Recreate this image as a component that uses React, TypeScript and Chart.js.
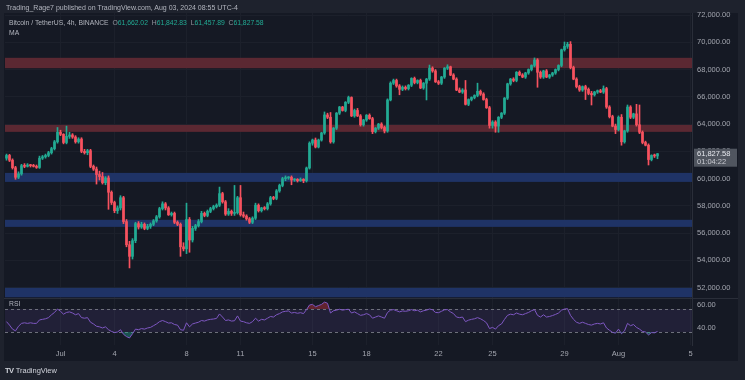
import React, { useEffect, useRef } from 'react';
import { Chart, registerables } from 'chart.js';

Chart.register(...registerables);

// ---- data (BTC/USDT 4h candles, Jun 28 00:00 -> Aug 3 04:00) ----
const opens = [
  61500, 61700, 61350, 60800, 60100, 60350,
  60950, 60900, 61000, 60950, 60900, 60820,
  61500, 61600, 61700, 61900, 62200, 62700,
  63400, 63250, 62650, 63100, 63200, 63050,
  62700, 62900, 62000, 61900, 62050, 60900,
  60700, 60300, 60150, 59700, 60050, 59000,
  58250, 57650, 57850, 58600, 56850, 55150,
  54300, 55450, 56700, 56450, 56650, 56350,
  56500, 56650, 56900, 57200, 57800, 58150,
  57850, 57350, 57450, 56800, 56650, 55000,
  54850, 57000, 55500, 56350, 56550, 56850,
  57450, 57300, 57600, 57800, 57950, 58050,
  58900, 58300, 57400, 57600, 57450, 57500,
  58600, 57350, 57250, 57050, 56800, 57100,
  58050, 57650, 57850, 57800, 58150, 58600,
  58550, 59100, 59500, 60000, 60050, 60100,
  59900, 59950, 59850, 59950, 59850, 60780,
  62600, 62830, 62320, 62830, 63350, 64670,
  64500, 62700, 63700, 64800, 65250, 65000,
  65600, 65950, 64600, 65000, 64600, 63950,
  64300, 64650, 64400, 63450, 63700, 64000,
  63750, 63500, 65770, 67000, 67200, 66800,
  66550, 66700, 66600, 66850, 67350, 67050,
  67200, 66650, 67000, 67300, 68100, 67900,
  67100, 67000, 67450, 68100, 68200, 67600,
  67300, 66500, 66350, 66500, 65450, 65800,
  65950, 66100, 66400, 66200, 65800, 65200,
  63900, 64150, 63850, 64500, 64800, 65900,
  66950, 67300, 67200, 67800, 67600, 67450,
  67750, 68000, 68300, 68700, 67800, 67450,
  67900, 67450, 67600, 67750, 68000, 68300,
  69450, 69700, 69850, 68150, 67300, 66750,
  66500, 66750, 66550, 66250, 66150, 66350,
  66450, 66350, 66600, 65250, 64550, 63850,
  63600, 64500, 62700, 63500, 65250, 64500,
  64750, 63950, 63400, 62650, 62450, 61400,
  61700, 61662.02,
];
const highs = [
  61800, 61780, 61450, 60900, 60500, 61050,
  61100, 61100, 61050, 61050, 61000, 61650,
  61700, 61800, 62000, 62300, 62800, 63750,
  63550, 63300, 63850, 63400, 63300, 63150,
  63000, 63000, 62150, 62150, 62150, 61000,
  60850, 60550, 60450, 60150, 60200, 59100,
  58350, 58000, 58750, 58700, 57000, 55400,
  55600, 56800, 56850, 56800, 56750, 56650,
  56750, 57000, 57300, 57900, 58300, 58250,
  57950, 57550, 57550, 56900, 56750, 55300,
  58200, 57150, 56500, 56650, 57000, 57600,
  57550, 57700, 57900, 58050, 58150, 59380,
  59000, 58400, 57800, 57700, 59500, 58700,
  59500, 57550, 57350, 57150, 57200, 58200,
  58150, 57900, 57950, 58250, 58700, 58700,
  59200, 59600, 60100, 60200, 60150, 60200,
  60000, 60000, 60050, 60000, 60850, 62700,
  62900, 62980, 62900, 63400, 64890, 64800,
  64850, 63750, 64850, 65300, 65300, 65650,
  66050, 66000, 65100, 65150, 64700, 64350,
  64700, 64750, 64500, 63750, 64050, 64100,
  63850, 65850, 67100, 67300, 67300, 66900,
  66800, 66800, 66900, 67400, 67450, 67250,
  67300, 67050, 67350, 68330, 68200, 68000,
  67200, 67500, 68150, 68350, 68250, 67700,
  67400, 66650, 66600, 67200, 65850, 66000,
  66150, 67000, 66500, 66300, 65900, 65300,
  64250, 64250, 64550, 64850, 65950, 67000,
  67350, 67400, 67850, 67900, 67700, 67800,
  68050, 68350, 68850, 68800, 67900, 67950,
  68000, 67650, 67800, 68050, 68350, 69500,
  70020, 70000, 70050, 68250, 67400, 66850,
  66800, 66850, 66650, 66400, 66400, 66500,
  66550, 66800, 66700, 65350, 64650, 64000,
  64600, 64700, 63550, 65400, 65350, 64800,
  65450, 65400, 63500, 62750, 62550, 61750,
  61800, 61842.83,
];
const lows = [
  61350, 61250, 60700, 59950, 60000, 60250,
  60800, 60850, 60850, 60850, 60750, 60750,
  61400, 61500, 61600, 61800, 62100, 62600,
  63150, 62550, 62550, 62950, 62950, 62600,
  62600, 61900, 61800, 61750, 60800, 60600,
  59600, 59900, 59600, 59550, 57750, 58100,
  57500, 57450, 57700, 56700, 55000, 53450,
  54100, 55300, 56300, 56350, 56250, 56250,
  56350, 56550, 56800, 57100, 57700, 57700,
  57300, 57250, 56700, 56550, 54300, 54700,
  54500, 54600, 55350, 56200, 56450, 56750,
  57200, 57200, 57500, 57700, 57850, 57950,
  58200, 57300, 57300, 57300, 57300, 57400,
  57250, 57150, 56950, 56700, 56700, 57000,
  57550, 57550, 57700, 57700, 58050, 58450,
  58450, 59000, 59400, 59850, 59950, 59550,
  59800, 59750, 59800, 59700, 59750, 60700,
  62450, 62250, 62250, 62750, 63250, 64400,
  62600, 62600, 63600, 64700, 64950, 64900,
  65500, 64550, 64500, 64550, 63850, 63850,
  64200, 64350, 63300, 63350, 63600, 63650,
  63350, 63400, 65700, 66900, 66700, 66150,
  66450, 66500, 66500, 66750, 66950, 66950,
  66600, 66550, 65770, 67200, 67800, 67050,
  66900, 66900, 67350, 68000, 67550, 67250,
  66450, 66300, 66250, 65400, 65350, 65700,
  65850, 66000, 66100, 65750, 65150, 63700,
  63700, 63400, 63400, 64400, 64700, 65800,
  66850, 67100, 67100, 67550, 67400, 67350,
  67650, 67900, 68200, 66700, 67350, 67350,
  67400, 67350, 67500, 67650, 67900, 68200,
  69350, 69550, 68050, 67250, 66650, 66400,
  66400, 65800, 66150, 65400, 66050, 66250,
  66300, 66250, 65150, 64450, 63800, 63300,
  63500, 62450, 62600, 63400, 64400, 64400,
  63850, 63300, 62550, 62400, 61000, 61300,
  61550, 61457.89,
];
const closes = [
  61700, 61350, 60800, 60100, 60350, 60950,
  60900, 61000, 60950, 60900, 60820, 61500,
  61600, 61700, 61900, 62200, 62700, 63400,
  63250, 62650, 63100, 63200, 63050, 62700,
  62900, 62000, 61900, 62050, 60900, 60700,
  60300, 60150, 59700, 60050, 59000, 58250,
  57650, 57850, 58600, 56850, 55150, 54300,
  55450, 56700, 56450, 56650, 56350, 56500,
  56650, 56900, 57200, 57800, 58150, 57850,
  57350, 57450, 56800, 56650, 55000, 54850,
  57000, 55500, 56350, 56550, 56850, 57450,
  57300, 57600, 57800, 57950, 58050, 58900,
  58300, 57400, 57600, 57450, 57500, 58600,
  57350, 57250, 57050, 56800, 57100, 58050,
  57650, 57850, 57800, 58150, 58600, 58550,
  59100, 59500, 60000, 60050, 60100, 59900,
  59950, 59850, 59950, 59850, 60780, 62600,
  62830, 62320, 62830, 63350, 64670, 64500,
  62700, 63700, 64800, 65250, 65000, 65600,
  65950, 64600, 65000, 64600, 63950, 64300,
  64650, 64400, 63450, 63700, 64000, 63750,
  63500, 65770, 67000, 67200, 66800, 66550,
  66700, 66600, 66850, 67350, 67050, 67200,
  66650, 67000, 67300, 68100, 67900, 67100,
  67000, 67450, 68100, 68200, 67600, 67300,
  66500, 66350, 66500, 65450, 65800, 65950,
  66100, 66400, 66200, 65800, 65200, 63900,
  64150, 63850, 64500, 64800, 65900, 66950,
  67300, 67200, 67800, 67600, 67450, 67750,
  68000, 68300, 68700, 67800, 67450, 67900,
  67450, 67600, 67750, 68000, 68300, 69450,
  69700, 69850, 68150, 67300, 66750, 66500,
  66750, 66550, 66250, 66150, 66350, 66450,
  66350, 66600, 65250, 64550, 63850, 63600,
  64500, 62700, 63500, 65250, 64500, 64750,
  63950, 63400, 62650, 62450, 61400, 61700,
  61662.02, 61827.58,
];
const rsiValues = [
  49, 46, 42.5, 41, 45, 47.5,
  48, 47.5, 48, 47.5, 47.5, 50.5,
  51, 51.5, 52.5, 55, 57, 60,
  58, 55.5, 57, 57.5, 56.5, 55,
  56, 52.5, 52, 52.5, 48.5, 47,
  45, 44.5, 43.5, 44.5, 42, 40.5,
  39.5, 40, 42, 38, 36, 34.8,
  38.5, 42.5, 42, 43, 42.5, 43.5,
  44, 45.5, 47, 49, 50, 49,
  47.8, 48, 46.5, 46, 42, 41.5,
  48, 44.5, 47, 47.8, 48.5, 50,
  49.5, 50.5, 51, 51.3, 51.8, 55.7,
  53, 50, 50.5, 49.5, 49.8, 54,
  49.5, 49, 48, 47.5, 49, 52,
  49.5, 51, 50.5, 52, 53.5, 53,
  55, 56, 57.5, 58, 58.3, 56.5,
  57, 56.3, 56.8, 56, 59.5, 63.5,
  64, 62, 63, 64, 66, 65,
  56.5, 58.5, 59, 59.8, 59, 59.5,
  59.8, 56.5, 57.5, 56, 54.5, 55,
  56, 55, 52, 53, 54, 53,
  52, 57, 59, 59.5, 58.5, 57.5,
  58.3, 58, 58.5, 59.5, 58.5, 59,
  57.5, 58.5, 59, 60, 59.3, 57,
  56.8, 58, 59.3, 59.5, 57.5, 56,
  53, 52.5, 53, 49, 50.3, 51,
  51.5, 52.5, 51.5, 50, 48, 43,
  44, 42.5, 45.5, 47, 51, 54.5,
  55.5, 55, 56.5, 55.5, 55, 56,
  57, 58.5, 59.5, 54.5, 53, 55,
  53, 53.5, 54.3, 55.3, 56.5, 59,
  60, 60.3, 54.5, 51, 48.5, 47.5,
  48.5, 47.5, 46.5, 46, 47, 47.5,
  47, 48, 43.5, 41.5, 39.7, 39,
  42.5, 38.5, 41, 47.5, 45.5, 46.5,
  44, 42.5, 40.5, 40, 37.5, 39.5,
  39.3, 40.5,
];

const priceTicks = [52000, 54000, 56000, 58000, 60000, 62000, 64000, 66000, 68000, 70000, 72000];
const rsiTicks = [40, 60];
const rsiUpper = 60;
const rsiLower = 40;
const xTickIndex = [18, 36, 60, 78, 102, 120, 144, 162, 186, 204, 228];
const xTickText = ['Jul', '4', '8', '11', '15', '18', '22', '25', '29', 'Aug', '5'];
const totalSlots = 229;
const zoneLow = [68100, 63430, 59760, 56460, 51300];
const zoneHigh = [68860, 63940, 60420, 56980, 51990];
const zoneKind = ['resistance', 'resistance', 'support', 'support', 'support'];
const lastPrice = 61827.58;
const countdown = '01:04:22';

const UP = '#22ab94';
const DOWN = '#f7525f';
const FRAME = '#1e222d';
const PANE = '#151924';
const GRID = '#1c202b';
const TEXT = '#a3a6af';
const FONT = '"Liberation Sans", Arial, sans-serif';

export default function App() {
  const ref = useRef<HTMLCanvasElement>(null);

  useEffect(() => {
    const canvas = ref.current;
    if (!canvas) return;
    const categories = Array.from({ length: totalSlots }, (_, i) => {
      const d = new Date(Date.UTC(2024, 5, 28, 0, 0) + i * 4 * 3600 * 1000);
      return d.toISOString().slice(0, 16).replace('T', ' ');
    });
    const colors = opens.map((o, i) => (closes[i] >= o ? UP : DOWN));

    const bgPlugin = {
      id: 'bgPlugin',
      beforeDraw(chart: any) {
        const { ctx, width, height, chartArea } = chart;
        const y = chart.scales.y;
        const x = chart.scales.x;
        ctx.save();
        ctx.fillStyle = FRAME;
        ctx.fillRect(0, 0, width, height);
        ctx.fillStyle = PANE;
        ctx.fillRect(chartArea.left - 1, chartArea.top, y.right - chartArea.left + 1, x.bottom - chartArea.top + 1);
        ctx.restore();
      },
      beforeDatasetsDraw(chart: any) {
        const { ctx, chartArea } = chart;
        const y = chart.scales.y;
        const r = chart.scales.yR;
        const w = chartArea.right - chartArea.left;
        ctx.save();
        ctx.beginPath();
        ctx.rect(chartArea.left, y.top, w, y.bottom - y.top);
        ctx.clip();
        zoneLow.forEach((lo, k) => {
          const t = y.getPixelForValue(zoneHigh[k]);
          const b = y.getPixelForValue(lo);
          ctx.fillStyle = zoneKind[k] === 'resistance' ? '#5b2832' : '#1f3366';
          ctx.fillRect(chartArea.left, t, w, b - t);
        });
        ctx.restore();

        ctx.save();
        const t = r.getPixelForValue(rsiUpper);
        const b = r.getPixelForValue(rsiLower);
        ctx.fillStyle = 'rgba(126,87,194,0.12)';
        ctx.fillRect(chartArea.left, t, w, b - t);
        ctx.strokeStyle = '#6d707b';
        ctx.lineWidth = 1;
        ctx.setLineDash([3, 3]);
        [t, b].forEach((py) => {
          ctx.beginPath();
          ctx.moveTo(chartArea.left, Math.round(py) + 0.5);
          ctx.lineTo(chartArea.right, Math.round(py) + 0.5);
          ctx.stroke();
        });
        ctx.setLineDash([]);
        ctx.strokeStyle = '#2a2e39';
        ctx.beginPath();
        ctx.moveTo(chartArea.left - 1, Math.round(y.bottom) + 0.5);
        ctx.lineTo(y.right, Math.round(y.bottom) + 0.5);
        ctx.stroke();
        ctx.restore();
      },
      afterDraw(chart: any) {
        const { ctx } = chart;
        const y = chart.scales.y;
        const py = y.getPixelForValue(lastPrice);
        ctx.save();
        ctx.fillStyle = '#50555f';
        ctx.fillRect(y.left + 2, py - 5, y.width - 3, 18);
        ctx.fillStyle = '#e6e8ee';
        ctx.font = `7.5px ${FONT}`;
        ctx.textBaseline = 'middle';
        ctx.textAlign = 'left';
        ctx.fillText(lastPrice.toLocaleString('en-US', { minimumFractionDigits: 2 }), y.left + 5, py);
        ctx.fillStyle = '#c8cad1';
        ctx.fillText(countdown, y.left + 5, py + 8.5);
        ctx.restore();
      },
    };

    const chart = new Chart(canvas, {
      type: 'bar',
      data: {
        labels: categories,
        datasets: [
          {
            type: 'bar',
            label: 'wick',
            data: lows.map((l, i) => [l, highs[i]]),
            backgroundColor: colors,
            barThickness: 1,
            grouped: false,
            yAxisID: 'y',
            order: 3,
          } as any,
          {
            type: 'bar',
            label: 'body',
            data: opens.map((o, i) => [o, closes[i]]),
            backgroundColor: colors,
            barThickness: 2,
            minBarLength: 1,
            grouped: false,
            yAxisID: 'y',
            order: 2,
          } as any,
          {
            type: 'line',
            label: 'RSI over',
            data: rsiValues,
            yAxisID: 'yR',
            borderWidth: 0,
            borderColor: 'rgba(0,0,0,0)',
            pointRadius: 0,
            fill: { target: { value: rsiUpper }, above: 'rgba(242,54,69,0.35)', below: 'rgba(0,0,0,0)' },
            order: 1,
          } as any,
          {
            type: 'line',
            label: 'RSI under',
            data: rsiValues,
            yAxisID: 'yR',
            borderWidth: 0,
            borderColor: 'rgba(0,0,0,0)',
            pointRadius: 0,
            fill: { target: { value: rsiLower }, above: 'rgba(0,0,0,0)', below: 'rgba(34,171,148,0.4)' },
            order: 1,
          } as any,
          {
            type: 'line',
            label: 'RSI',
            data: rsiValues,
            yAxisID: 'yR',
            borderColor: '#7e57c2',
            borderWidth: 1,
            pointRadius: 0,
            tension: 0,
            fill: false,
            order: 0,
          } as any,
        ],
      },
      options: {
        responsive: false,
        animation: false,
        devicePixelRatio: 1,
        events: [],
        layout: { padding: { left: 5, top: 13, right: 7, bottom: 20 } },
        plugins: { legend: { display: false }, tooltip: { enabled: false } },
        scales: {
          x: {
            type: 'category',
            offset: true,
            grid: { offset: false, color: GRID, drawTicks: false },
            border: { display: false },
            ticks: {
              autoSkip: false,
              maxRotation: 0,
              padding: 4,
              color: TEXT,
              font: { family: FONT, size: 7.5 },
              callback: (_v: any, idx: number) => xTickText[idx],
            },
            afterBuildTicks: (s: any) => {
              s.ticks = xTickIndex.map((v) => ({ value: v }));
            },
            afterFit: (s: any) => {
              s.height = 15;
            },
          },
          y: {
            type: 'linear',
            position: 'right',
            stack: 'pane',
            stackWeight: 285,
            min: 51245,
            max: 72147,
            grid: { color: GRID, drawTicks: false },
            border: { color: '#2a2e39' },
            ticks: {
              padding: 5,
              color: TEXT,
              font: { family: FONT, size: 7.5 },
              callback: (v: any) => Number(v).toLocaleString('en-US', { minimumFractionDigits: 2, maximumFractionDigits: 2 }),
            },
            afterBuildTicks: (s: any) => {
              s.ticks = priceTicks.map((v) => ({ value: v }));
            },
            afterFit: (s: any) => {
              s.width = 46;
            },
          },
          yR: {
            type: 'linear',
            position: 'right',
            stack: 'pane',
            stackWeight: 47,
            min: 28.7,
            max: 69.57,
            grid: { display: false, drawTicks: false },
            border: { color: '#2a2e39' },
            ticks: {
              padding: 5,
              color: TEXT,
              font: { family: FONT, size: 7.5 },
              labelOffset: -4,
              callback: (v: any) => Number(v).toFixed(2),
            },
            afterBuildTicks: (s: any) => {
              s.ticks = rsiTicks.map((v) => ({ value: v }));
            },
            afterFit: (s: any) => {
              s.width = 46;
            },
          },
        },
      } as any,
      plugins: [bgPlugin],
    });
    return () => chart.destroy();
  }, []);

  const small: React.CSSProperties = { position: 'absolute', fontFamily: FONT, whiteSpace: 'nowrap', lineHeight: '9px' };
  const g = { color: UP };
  const k = { color: '#9598a1' };

  return (
    <div style={{ position: 'fixed', left: 0, top: 0, width: 745, height: 380, background: FRAME, overflow: 'hidden' }}>
      <canvas ref={ref} width={745} height={380} style={{ position: 'absolute', left: 0, top: 0, width: 745, height: 380 }} />
      <div style={{ ...small, left: 6, top: 3, fontSize: 7, color: '#b2b5be' }}>
        Trading_Rage7 published on TradingView.com, Aug 03, 2024 08:55 UTC-4
      </div>
      <div style={{ ...small, left: 9, top: 18, fontSize: 6.8, color: '#b2b5be' }}>
        Bitcoin / TetherUS, 4h, BINANCE&nbsp; <span style={k}>O</span><span style={g}>61,662.02</span>&nbsp; <span style={k}>H</span>
        <span style={g}>61,842.83</span>&nbsp; <span style={k}>L</span><span style={g}>61,457.89</span>&nbsp; <span style={k}>C</span>
        <span style={g}>61,827.58</span>
      </div>
      <div style={{ ...small, left: 9, top: 28, fontSize: 6.8, color: '#b2b5be' }}>MA</div>
      <div style={{ ...small, left: 9, top: 299, fontSize: 6.8, color: '#b2b5be' }}>RSI</div>
      <div style={{ ...small, left: 5, top: 366, fontSize: 7.5, color: '#d1d4dc' }}>
        <span style={{ fontWeight: 700, letterSpacing: -0.5 }}>TV</span>&nbsp;TradingView
      </div>
    </div>
  );
}
